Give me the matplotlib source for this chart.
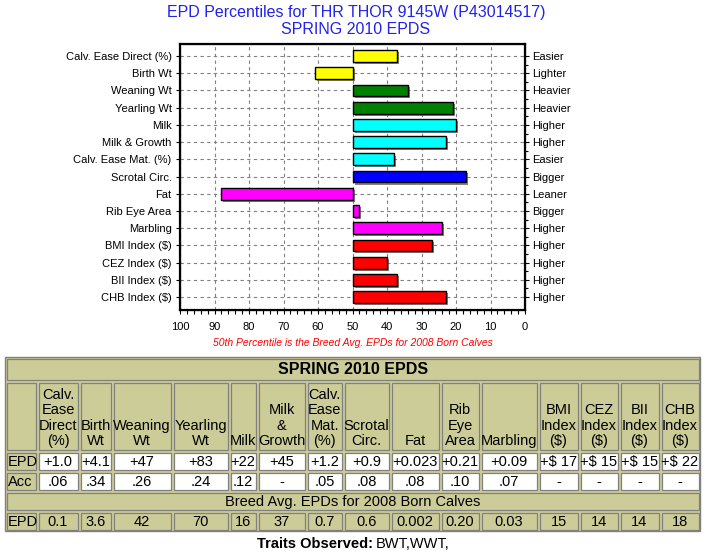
import numpy as np
import matplotlib
matplotlib.use("Agg")
import matplotlib.pyplot as plt
from matplotlib.patches import Rectangle
import matplotlib.patheffects as pe

plt.rcParams['font.family'] = ['Liberation Sans', 'DejaVu Sans']

#%% data
traits = ["Calv. Ease Direct (%)", "Birth Wt", "Weaning Wt", "Yearling Wt", "Milk",
          "Milk & Growth", "Calv. Ease Mat. (%)", "Scrotal Circ.", "Fat", "Rib Eye Area",
          "Marbling", "BMI Index ($)", "CEZ Index ($)", "BII Index ($)", "CHB Index ($)"]
percentiles = [37, 61, 34, 21, 20, 23, 38, 17, 88, 48, 24, 27, 40, 37, 23]
directions = ["Easier", "Lighter", "Heavier", "Heavier", "Higher", "Higher", "Easier",
              "Bigger", "Leaner", "Bigger", "Higher", "Higher", "Higher", "Higher", "Higher"]
bar_colors = ["#ffff00", "#ffff00", "#008000", "#008000", "#00ffff", "#00ffff", "#00ffff",
              "#0000ff", "#ff00ff", "#ff00ff", "#ff00ff", "#ff0000", "#ff0000", "#ff0000", "#ff0000"]

col_heads = ["Calv.\nEase\nDirect\n(%)", "Birth\nWt", "Weaning\nWt", "Yearling\nWt", "Milk",
             "Milk\n&\nGrowth", "Calv.\nEase\nMat.\n(%)", "Scrotal\nCirc.", "Fat", "Rib\nEye\nArea",
             "Marbling", "BMI\nIndex\n($)", "CEZ\nIndex\n($)", "BII\nIndex\n($)", "CHB\nIndex\n($)"]
epd_vals = ["+1.0", "+4.1", "+47", "+83", "+22", "+45", "+1.2", "+0.9", "+0.023", "+0.21",
            "+0.09", "+$ 17", "+$ 15", "+$ 15", "+$ 22"]
acc_vals = [".06", ".34", ".26", ".24", ".12", "-", ".05", ".08", ".08", ".10", ".07",
            "-", "-", "-", "-"]
breed_avg = ["0.1", "3.6", "42", "70", "16", "37", "0.7", "0.6", "0.002", "0.20", "0.03",
             "15", "14", "14", "18"]

W, H = 706, 554
fig = plt.figure(figsize=(W / 100, H / 100), dpi=100)

#%% bar chart
ax = fig.add_axes([180 / W, 1 - 310 / H, 345 / W, 266 / H])
y = np.arange(len(traits))
pct = np.array(percentiles)
shadow = [pe.SimplePatchShadow(offset=(1.5, -1.5), shadow_rgbFace='#505050', alpha=0.7), pe.Normal()]
bars = ax.barh(y, pct - 50, left=50, height=0.68, color=bar_colors, edgecolor='black',
               linewidth=1.0, zorder=3)
for b in bars:
    b.set_path_effects(shadow)

ax.set_xlim(100, 0)
ax.set_ylim(len(traits) - 0.25, -0.7)
ax.set_xticks(np.arange(0, 101, 10))
ax.set_xticks(np.arange(0, 101, 2), minor=True)
ax.set_yticks(y)
ax.set_yticklabels(traits, fontsize=8)
ax.tick_params(axis='x', labelsize=8, length=3, width=0.8, pad=6)
ax.tick_params(axis='x', which='minor', length=3, width=0.8)
ax.tick_params(axis='y', length=3, width=0.8, pad=3)
ax.grid(True, color='#808080', linestyle=(0, (3, 3)), linewidth=0.8, zorder=0)
ax.set_axisbelow(True)
for s in ax.spines.values():
    s.set_linewidth(1.6)

ax2 = ax.twinx()
ax2.set_ylim(ax.get_ylim())
ax2.set_yticks(y)
ax2.set_yticklabels(directions, fontsize=8)
ax2.set_yticks(y[:-1] + 0.5, minor=True)
ax2.tick_params(axis='y', length=3, width=0.8, pad=2)
ax2.tick_params(axis='y', which='minor', length=2, width=0.8)

#%% overlay in pixel coords for titles and table
ov = fig.add_axes([0, 0, 1, 1])
ov.set_xlim(0, W)
ov.set_ylim(H, 0)
ov.axis('off')

ov.text(356, 12, "EPD Percentiles for THR THOR 9145W (P43014517)", color='#2222ee',
        fontsize=11.5, ha='center', va='center')
ov.text(356, 29, "SPRING 2010 EPDS", color='#2222ee', fontsize=11.5, ha='center', va='center')
ov.text(353, 343, "50th Percentile is the Breed Avg. EPDs for 2008 Born Calves", color='red',
        fontsize=7.5, style='italic', ha='center', va='center')

khaki = '#cccc99'
edge = '#808080'
col_x = [5, 37, 79, 112, 172, 229, 257, 306, 343, 390, 440, 480, 538, 579, 619, 660, 700]
row_y = [357, 381, 451, 471, 491, 511, 531]

ov.add_patch(Rectangle((col_x[0], row_y[0]), col_x[-1] - col_x[0], row_y[-1] - row_y[0],
                       facecolor=khaki, edgecolor=edge, linewidth=1.0))


def cell(x0, x1, y0, y1, face):
    ov.add_patch(Rectangle((x0 + 1.5, y0 + 1.5), x1 - x0 - 3, y1 - y0 - 3,
                           facecolor=face, edgecolor=edge, linewidth=0.9))


tfs = 10.5
# title row
cell(col_x[0], col_x[-1], row_y[0], row_y[1], khaki)
ov.text(353, (row_y[0] + row_y[1]) / 2 + 1, "SPRING 2010 EPDS", fontsize=11.5,
        fontweight='bold', ha='center', va='center')

# header row
cell(col_x[0], col_x[1], row_y[1], row_y[2], khaki)
for i, h in enumerate(col_heads):
    x0, x1 = col_x[i + 1], col_x[i + 2]
    cell(x0, x1, row_y[1], row_y[2], khaki)
    ov.text((x0 + x1) / 2, row_y[2] - 3, h, fontsize=tfs, ha='center', va='bottom',
            multialignment='center', linespacing=1.12)

# epd / acc rows
for r, (lab, vals) in enumerate([("EPD", epd_vals), ("Acc", acc_vals)]):
    y0, y1 = row_y[2 + r], row_y[3 + r]
    cell(col_x[0], col_x[1], y0, y1, khaki)
    ov.text(col_x[0] + 2.5, (y0 + y1) / 2 + 1, lab, fontsize=tfs, ha='left', va='center')
    for i, v in enumerate(vals):
        x0, x1 = col_x[i + 1], col_x[i + 2]
        cell(x0, x1, y0, y1, 'white')
        ov.text((x0 + x1) / 2, (y0 + y1) / 2 + 1, v, fontsize=tfs, ha='center', va='center')

# breed average rows
cell(col_x[0], col_x[-1], row_y[4], row_y[5], khaki)
ov.text(353, (row_y[4] + row_y[5]) / 2 + 1, "Breed Avg. EPDs for 2008 Born Calves",
        fontsize=tfs, ha='center', va='center')
y0, y1 = row_y[5], row_y[6]
cell(col_x[0], col_x[1], y0, y1, khaki)
ov.text(col_x[0] + 2.5, (y0 + y1) / 2 + 1, "EPD", fontsize=tfs, ha='left', va='center')
for i, v in enumerate(breed_avg):
    x0, x1 = col_x[i + 1], col_x[i + 2]
    cell(x0, x1, y0, y1, khaki)
    ov.text((x0 + x1) / 2, (y0 + y1) / 2 + 1, v, fontsize=tfs, ha='center', va='center')

ov.text(373, 544, "Traits Observed:", fontsize=tfs, fontweight='bold', ha='right', va='center')
ov.text(376, 544, "BWT,WWT,", fontsize=tfs, ha='left', va='center')

fig.savefig("out.png", dpi=100)
